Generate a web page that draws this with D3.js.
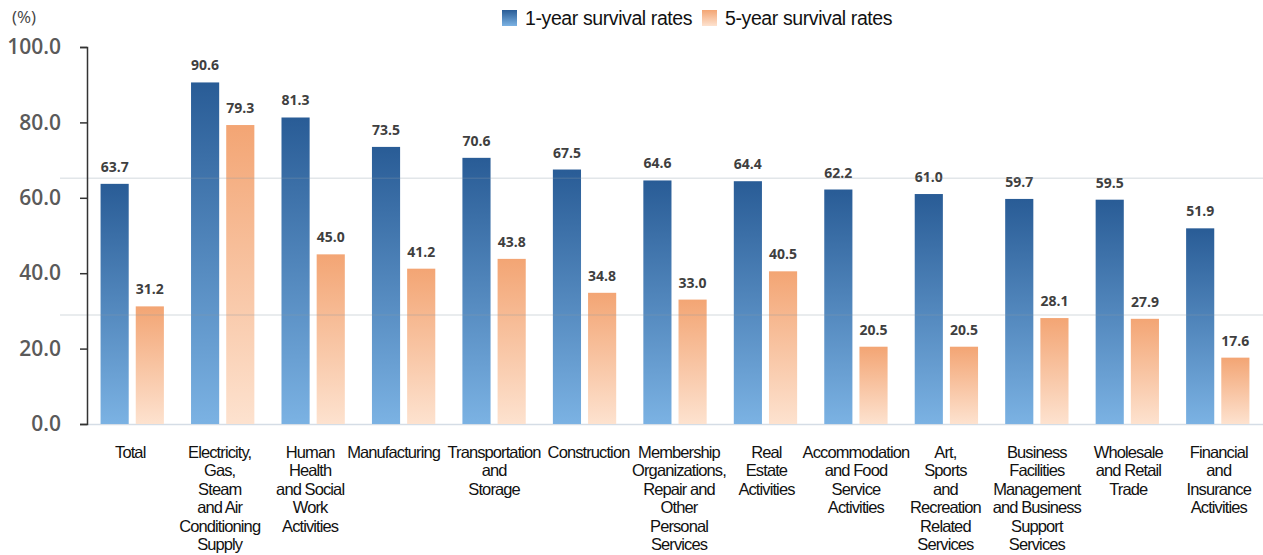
<!DOCTYPE html>
<html>
<head>
<meta charset="utf-8">
<script src="https://cdn.jsdelivr.net/npm/d3@7"></script>
<style>
  html, body { margin: 0; padding: 0; background: #fff; }
  svg { display: block; }
</style>
</head>
<body>
<svg width="1263" height="555"></svg>
<script>
const svg = d3.select("svg");
const width = +svg.attr("width");
const height = +svg.attr("height");

const margin = { top: 47, right: 0, bottom: 131, left: 87 };

/* ---------- data ---------- */
const categories = [
    "Total",
    "Electricity, Gas, Steam and Air Conditioning Supply",
    "Human Health and Social Work Activities",
    "Manufacturing",
    "Transportation and Storage",
    "Construction",
    "Membership Organizations, Repair and Other Personal Services",
    "Real Estate Activities",
    "Accommodation and Food Service Activities",
    "Art, Sports and Recreation Related Services",
    "Business Facilities Management and Business Support Services",
    "Wholesale and Retail Trade",
    "Financial and Insurance Activities"
];

// how each label wraps in the picture
const labelLines = [
    ["Total"],
    ["Electricity,", "Gas,", "Steam", "and Air", "Conditioning", "Supply"],
    ["Human", "Health", "and Social", "Work", "Activities"],
    ["Manufacturing"],
    ["Transportation", "and", "Storage"],
    ["Construction"],
    ["Membership", "Organizations,", "Repair and", "Other", "Personal", "Services"],
    ["Real", "Estate", "Activities"],
    ["Accommodation", "and Food", "Service", "Activities"],
    ["Art,", "Sports", "and", "Recreation", "Related", "Services"],
    ["Business", "Facilities", "Management", "and Business", "Support", "Services"],
    ["Wholesale", "and Retail", "Trade"],
    ["Financial", "and", "Insurance", "Activities"]
];
// labels nudged sideways so neighbours do not collide
const labelShift = [-2, -3, -3, -10, 0, 4, 4, 1, 0, -1, 0, 1, 1];

const oneYear  = [63.7, 90.6, 81.3, 73.5, 70.6, 67.5, 64.6, 64.4, 62.2, 61.0, 59.7, 59.5, 51.9];
const fiveYear = [31.2, 79.3, 45.0, 41.2, 43.8, 34.8, 33.0, 40.5, 20.5, 20.5, 28.1, 27.9, 17.6];

const seriesNames = ["1-year survival rates", "5-year survival rates"];
const yTicks = [0, 20, 40, 60, 80, 100];

// faint scan lines crossing the plot
const faintLines = [65.2, 28.9];

const series = [
    { name: seriesNames[0], values: oneYear,  grad: "gradBlue" },
    { name: seriesNames[1], values: fiveYear, grad: "gradOrange" }
];

/* ---------- gradients ---------- */
const defs = svg.append("defs");

function addGradient(id, top, bottom) {
    const g = defs.append("linearGradient")
        .attr("id", id)
        .attr("x1", 0).attr("y1", 0)
        .attr("x2", 0).attr("y2", 1);
    g.append("stop").attr("offset", "0%").attr("stop-color", top);
    g.append("stop").attr("offset", "100%").attr("stop-color", bottom);
}
addGradient("gradBlue", "#295c96", "#7bb2e3");
addGradient("gradOrange", "#f3a574", "#fde2cf");

/* ---------- scales ---------- */
const x = d3.scaleBand()
    .domain(categories)
    .range([margin.left, width - margin.right])
    .paddingInner(0.30)
    .paddingOuter(0.15);

const xInner = d3.scaleBand()
    .domain(seriesNames)
    .range([0, x.bandwidth()])
    .paddingInner(0.2);

const y = d3.scaleLinear()
    .domain([0, 100])
    .range([height - margin.bottom, margin.top]);

/* ---------- baseline ---------- */
svg.append("line")
    .attr("x1", margin.left)
    .attr("x2", width)
    .attr("y1", y(0) + 0.5)
    .attr("y2", y(0) + 0.5)
    .attr("stroke", "#d5dde6")
    .attr("stroke-width", 1.5);

/* ---------- bars ---------- */
series.forEach(s => {
    svg.append("g")
        .selectAll("rect")
        .data(s.values)
        .join("rect")
        .attr("x", (d, i) => x(categories[i]) + xInner(s.name))
        .attr("y", d => y(d))
        .attr("width", xInner.bandwidth())
        .attr("height", d => y(0) - y(d))
        .attr("fill", `url(#${s.grad})`);

    svg.append("g")
        .selectAll("text")
        .data(s.values)
        .join("text")
        .attr("x", (d, i) => x(categories[i]) + xInner(s.name) + xInner.bandwidth() / 2)
        .attr("y", d => y(d) - 12)
        .attr("text-anchor", "middle")
        .attr("font-family", "'Open Sans', 'Noto Sans', sans-serif")
        .attr("font-weight", "bold")
        .attr("font-size", 14)
        .attr("fill", "#3f3f3f")
        .text(d => d.toFixed(1));
});

/* ---------- faint lines ---------- */
faintLines.forEach(v => {
    svg.append("line")
        .attr("x1", 60)
        .attr("x2", width)
        .attr("y1", y(v))
        .attr("y2", y(v))
        .attr("stroke", "#8a9aa8")
        .attr("stroke-opacity", 0.25)
        .attr("stroke-width", 1.5);
});

/* ---------- y axis ---------- */
const yAxis = svg.append("g")
    .attr("transform", `translate(${margin.left},0)`)
    .call(d3.axisLeft(y).tickValues(yTicks).tickFormat(d3.format(".1f")).tickSize(7).tickPadding(19));

yAxis.select(".domain").attr("stroke", "#333").attr("stroke-width", 1.5);
yAxis.selectAll(".tick line").attr("stroke", "#333").attr("stroke-width", 1.5);
yAxis.selectAll(".tick text")
    .attr("font-family", "'Open Sans', 'Noto Sans', sans-serif")
    .attr("font-size", 21)
    .attr("font-weight", 600)
    .attr("fill", "#5a5a5a");

svg.append("text")
    .attr("x", 12)
    .attr("y", 23)
    .attr("font-family", "'Open Sans', 'Noto Sans', sans-serif")
    .attr("font-size", 17)
    .attr("fill", "#444")
    .text("(%)");

/* ---------- category labels ---------- */
const labels = svg.append("g")
    .selectAll("text")
    .data(categories)
    .join("text")
    .attr("y", y(0) + 34)
    .attr("text-anchor", "middle")
    .attr("font-family", "'Liberation Sans', Arial, sans-serif")
    .attr("font-size", 16.5)
    .attr("letter-spacing", -0.9)
    .attr("fill", "#111");

labels.each(function (d, i) {
    const t = d3.select(this);
    const cx = x(d) + x.bandwidth() / 2 + labelShift[i];
    labelLines[i].forEach((line, j) => {
        t.append("tspan")
            .attr("x", cx)
            .attr("dy", j === 0 ? 0 : 18.4)
            .text(line);
    });
});

/* ---------- legend ---------- */
const legendX = [502, 702];
seriesNames.forEach((name, i) => {
    const g = svg.append("g").attr("transform", `translate(${legendX[i]},10)`);
    g.append("rect")
        .attr("width", 15)
        .attr("height", 16)
        .attr("fill", `url(#${series[i].grad})`);
    g.append("text")
        .attr("x", 23)
        .attr("y", 14.5)
        .attr("font-family", "'Liberation Sans', Arial, sans-serif")
        .attr("font-size", 19.5)
        .attr("letter-spacing", -0.4)
        .attr("fill", "#111")
        .text(name);
});
</script>
</body>
</html>
